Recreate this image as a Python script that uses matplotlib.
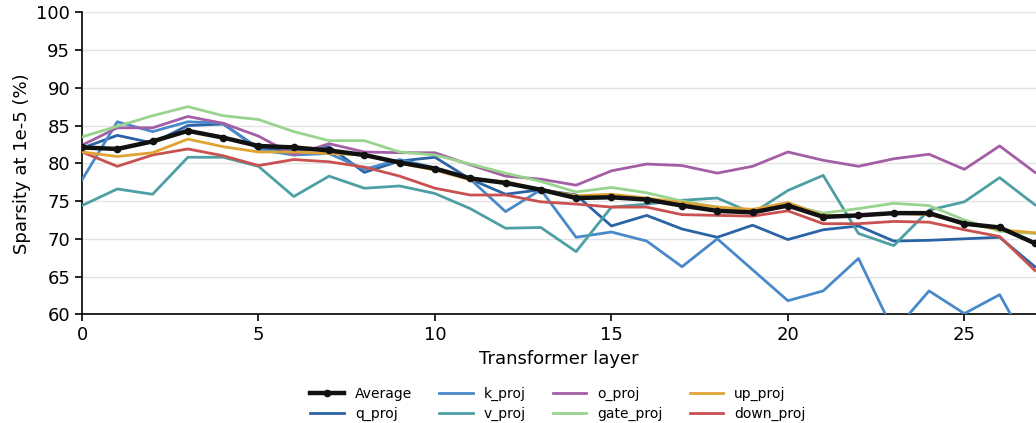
import matplotlib
matplotlib.use('Agg')
import matplotlib.pyplot as plt

layers = list(range(28))

average = [82.1, 81.9, 82.9, 84.3, 83.4, 82.3, 82.1, 81.7, 81.1, 80.1,
           79.3, 78.0, 77.4, 76.5, 75.4, 75.5, 75.2, 74.4, 73.7, 73.5,
           74.4, 72.9, 73.1, 73.4, 73.4, 72.0, 71.5, 69.4]
q_proj = [82.0, 83.7, 82.7, 85.0, 85.2, 82.0, 81.6, 82.2, 78.8, 80.3,
          80.8, 77.9, 75.9, 76.5, 75.8, 71.7, 73.1, 71.3, 70.2, 71.8,
          69.9, 71.2, 71.7, 69.7, 69.8, 70.0, 70.2, 66.3]
k_proj = [77.8, 85.5, 84.2, 85.5, 85.3, 81.8, 81.1, 81.3, 79.2, 80.5,
          79.4, 77.9, 73.6, 76.5, 70.2, 70.9, 69.7, 66.3, 70.0, 65.9,
          61.8, 63.1, 67.4, 57.7, 63.1, 60.1, 62.6, 54.2]
v_proj = [74.4, 76.6, 75.9, 80.8, 80.8, 79.6, 75.6, 78.3, 76.7, 77.0,
          76.0, 74.0, 71.4, 71.5, 68.3, 74.2, 74.6, 75.1, 75.4, 73.4,
          76.4, 78.4, 70.7, 69.1, 73.8, 74.9, 78.1, 74.5]
o_proj = [82.4, 84.7, 84.7, 86.2, 85.3, 83.6, 81.1, 82.6, 81.5, 81.4,
          81.4, 79.8, 78.3, 77.9, 77.1, 79.0, 79.9, 79.7, 78.7, 79.6,
          81.5, 80.4, 79.6, 80.6, 81.2, 79.2, 82.3, 78.8]
gate_proj = [83.5, 84.9, 86.3, 87.5, 86.3, 85.8, 84.2, 83.0, 83.0, 81.5,
             81.1, 79.9, 78.7, 77.6, 76.2, 76.8, 76.1, 75.0, 74.2, 73.5,
             74.5, 73.4, 74.0, 74.7, 74.4, 72.5, 71.0, 70.7]
up_proj = [81.5, 80.9, 81.4, 83.2, 82.2, 81.5, 81.5, 81.3, 81.1, 80.0,
           79.1, 77.8, 77.6, 76.5, 75.7, 75.9, 75.4, 74.8, 74.2, 73.9,
           74.8, 73.1, 73.1, 73.4, 73.2, 72.1, 71.2, 70.8]
down_proj = [81.5, 79.6, 81.1, 81.9, 81.0, 79.7, 80.5, 80.2, 79.5, 78.3,
             76.7, 75.8, 75.8, 74.9, 74.6, 74.2, 74.2, 73.2, 73.1, 73.0,
             73.7, 72.0, 72.0, 72.3, 72.2, 71.2, 70.3, 65.8]

series = [
    ('q_proj', q_proj, '#2a63a6'),
    ('k_proj', k_proj, '#4a89c9'),
    ('v_proj', v_proj, '#4e9fa3'),
    ('o_proj', o_proj, '#a45ea6'),
    ('gate_proj', gate_proj, '#98d48e'),
    ('up_proj', up_proj, '#e0a435'),
    ('down_proj', down_proj, '#c9514f'),
]

fig = plt.figure(figsize=(10.36, 4.23), dpi=100)
ax = fig.add_axes([82 / 1036, 1 - 314.3 / 423, 1 - 82 / 1036, (314.3 - 12.3) / 423])

handles = {}
(h,) = ax.plot(layers, average, color='#111111', lw=3.2, marker='o', ms=4.5,
               label='Average', zorder=5)
handles['Average'] = h
for name, vals, col in series:
    (h,) = ax.plot(layers, vals, color=col, lw=2, label=name, zorder=3)
    handles[name] = h
handles['up_proj'].set_zorder(4)

ax.set_xlim(0, 27.03)
ax.set_ylim(60, 100)
ax.set_xticks([0, 5, 10, 15, 20, 25])
ax.set_yticks(range(60, 101, 5))
ax.tick_params(labelsize=13, length=5, width=1.2)
ax.grid(axis='y', color='#e3e3e3', lw=1)
ax.set_axisbelow(True)
for s in ['top', 'right']:
    ax.spines[s].set_visible(False)
for s in ['left', 'bottom']:
    ax.spines[s].set_linewidth(1.2)
ax.set_xlabel('Transformer layer', fontsize=13)
ax.set_ylabel('Sparsity at 1e-5 (%)', fontsize=13)

order = ['Average', 'q_proj', 'k_proj', 'v_proj', 'o_proj', 'gate_proj',
         'up_proj', 'down_proj']
fig.legend([handles[k] for k in order], order, loc='upper center',
           bbox_to_anchor=(558 / 1036, 1 - 374 / 423), ncol=4, frameon=False,
           fontsize=10, columnspacing=1.95, handlelength=2.4, labelspacing=0.45)

fig.savefig('out.png', dpi=100)
